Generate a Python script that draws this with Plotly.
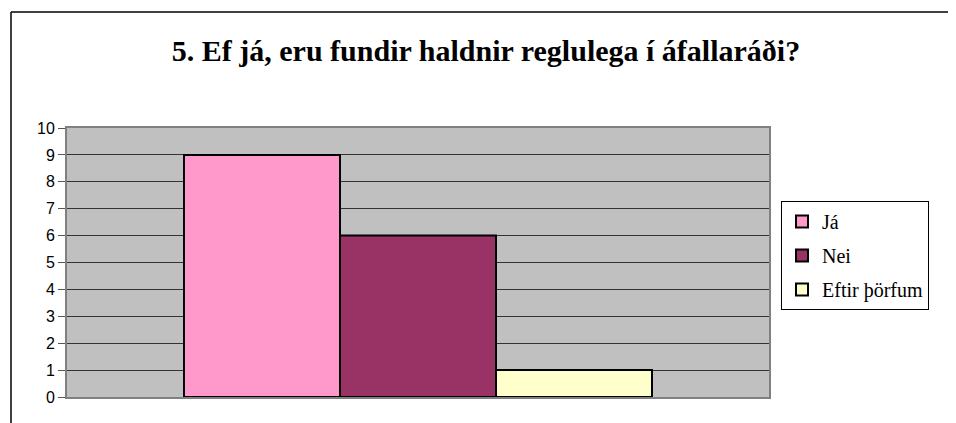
import plotly.graph_objects as go

title = "5. Ef já, eru fundir haldnir reglulega í áfallaráði?"
series_names = ["Já", "Nei", "Eftir þörfum"]
series_values = [9, 6, 1]
series_colors = ["#FF99CC", "#993366", "#FFFFCC"]
category = [""]
y_ticks = list(range(0, 11))

OFF = 8  # page body margin
W, H = 956 - OFF, 423 - OFF
L, T = 67 - OFF, 128 - OFF
R, B = 956 - 769, 423 - 397
pw, ph = W - L - R, H - T - B

def px_x(v):
    return (v - OFF - L) / pw

def px_y(v):
    return (H - B - (v - OFF)) / ph

fig = go.Figure()
for i, (name, val, col) in enumerate(zip(series_names, series_values, series_colors)):
    fig.add_trace(go.Bar(
        x=category, y=[val], name=name, legendgroup=f"g{i}",
        marker=dict(color=col, line=dict(color="black", width=2)),
        hoverinfo="skip",
    ))

fig.update_layout(
    width=W, height=H,
    margin=dict(l=L, r=R, t=T, b=B, pad=0),
    paper_bgcolor="white",
    plot_bgcolor="#C0C0C0",
    barmode="group", bargap=1/3, bargroupgap=0,
    title=dict(text=f"<b>{title}</b>", x=px_x(486), xref="paper", xanchor="center",
               y=1 - (50 - OFF) / H, yanchor="middle",
               font=dict(family="Liberation Serif, Times New Roman, serif", size=30, color="black")),
    xaxis=dict(showticklabels=False, ticks="", showgrid=False, showline=True,
               linecolor="#808080", linewidth=2, mirror=True, zeroline=False, fixedrange=True),
    yaxis=dict(range=[0, 10], tickvals=y_ticks, ticktext=[str(v) for v in y_ticks],
               showgrid=True, gridcolor="#333333", gridwidth=1,
               showline=True, linecolor="#808080", linewidth=2, mirror=True,
               ticks="outside", ticklen=7, tickcolor="#555555", tickwidth=1,
               zeroline=False,
               tickfont=dict(family="Liberation Sans, Arial, sans-serif", size=16, color="black")),
    legend=dict(x=px_x(781), y=px_y(201), xanchor="left", yanchor="top",
                bordercolor="black", borderwidth=1, bgcolor="white",
                traceorder="grouped", tracegroupgap=5,
                font=dict(family="Liberation Serif, Times New Roman, serif", size=20, color="black"),
                itemwidth=30),
    showlegend=True,
)

# outer chart frame (cut off at right and bottom)
fig.add_shape(type="line", xref="paper", yref="paper",
              x0=px_x(11), x1=px_x(970), y0=px_y(12), y1=px_y(12),
              line=dict(color="black", width=1.5))
fig.add_shape(type="line", xref="paper", yref="paper",
              x0=px_x(11), x1=px_x(11), y0=px_y(12), y1=px_y(440),
              line=dict(color="black", width=1.5))

fig.write_html("out.html")
